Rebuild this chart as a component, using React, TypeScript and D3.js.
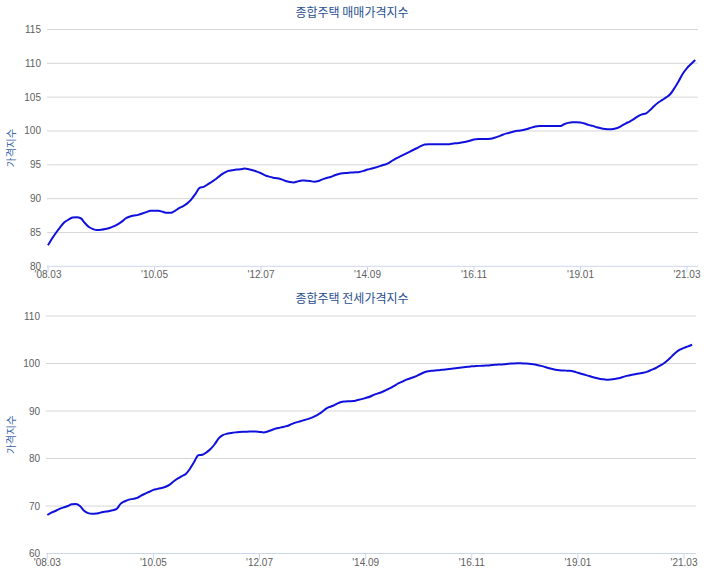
import React from "react";
import * as d3 from "d3";

// Monthly index, 2008.03 .. 2021.05
const START_YEAR = 2008;
const START_MONTH = 3;

const saleIndex: number[] = [
  83.1, 84.1, 85.0, 85.8, 86.5, 86.9, 87.2, 87.25, 87.1, 86.4,
  85.8, 85.5, 85.35, 85.4, 85.5, 85.65, 85.9, 86.2, 86.6, 87.1,
  87.35, 87.5, 87.6, 87.8, 88.0, 88.2, 88.2, 88.2, 88.05, 87.9,
  87.9, 88.2, 88.6, 88.9, 89.3, 89.9, 90.7, 91.6, 91.75, 92.1,
  92.5, 92.9, 93.4, 93.8, 94.1, 94.2, 94.3, 94.35, 94.45, 94.35,
  94.2, 94.0, 93.75, 93.45, 93.25, 93.1, 93.0, 92.85, 92.6, 92.45,
  92.4, 92.55, 92.7, 92.65, 92.6, 92.5, 92.6, 92.85, 93.05, 93.2,
  93.45, 93.65, 93.75, 93.8, 93.85, 93.9, 93.95, 94.1, 94.3, 94.45,
  94.6, 94.8, 95.0, 95.2, 95.6, 95.95, 96.25, 96.55, 96.85, 97.15,
  97.45, 97.75, 98.0, 98.05, 98.05, 98.05, 98.05, 98.05, 98.05, 98.15,
  98.2, 98.3, 98.4, 98.55, 98.75, 98.8, 98.8, 98.8, 98.85, 99.0,
  99.2, 99.45, 99.65, 99.8, 99.95, 100.05, 100.15, 100.3, 100.5, 100.65,
  100.72, 100.72, 100.72, 100.72, 100.72, 100.72, 101.0, 101.2, 101.3, 101.3,
  101.25, 101.1, 100.9, 100.75, 100.55, 100.4, 100.3, 100.25, 100.3, 100.45,
  100.75, 101.1, 101.4, 101.75, 102.15, 102.45, 102.6, 103.1, 103.7, 104.2,
  104.6, 105.0, 105.5, 106.4, 107.4, 108.5, 109.3, 109.9, 110.5,
];

const jeonseIndex: number[] = [
  68.1, 68.6, 68.95, 69.4, 69.7, 70.0, 70.35, 70.4, 70.0, 69.0,
  68.5, 68.35, 68.4, 68.6, 68.8, 68.9, 69.1, 69.4, 70.5, 71.0,
  71.35, 71.5, 71.7, 72.2, 72.6, 73.0, 73.4, 73.6, 73.8, 74.05,
  74.5, 75.2, 75.8, 76.3, 76.8, 77.9, 79.3, 80.7, 80.8, 81.3,
  82.0, 83.0, 84.25, 84.9, 85.2, 85.35, 85.5, 85.6, 85.65, 85.65,
  85.7, 85.7, 85.6, 85.5, 85.7, 86.0, 86.3, 86.5, 86.7, 86.9,
  87.3, 87.6, 87.85, 88.1, 88.35, 88.65, 89.1, 89.6, 90.3, 90.8,
  91.1, 91.55, 91.9, 92.0, 92.05, 92.1, 92.3, 92.5, 92.75, 93.0,
  93.4, 93.7, 94.0, 94.4, 94.8, 95.3, 95.8, 96.2, 96.6, 96.9,
  97.2, 97.6, 98.0, 98.3, 98.45, 98.55, 98.6, 98.7, 98.8, 98.9,
  99.0, 99.1, 99.2, 99.3, 99.4, 99.45, 99.5, 99.55, 99.6, 99.7,
  99.75, 99.8, 99.85, 99.95, 100.0, 100.05, 100.05, 100.0, 99.95, 99.85,
  99.7, 99.5, 99.25, 99.0, 98.8, 98.65, 98.55, 98.5, 98.45, 98.3,
  98.05, 97.8, 97.55, 97.3, 97.05, 96.85, 96.7, 96.6, 96.65, 96.75,
  96.9, 97.15, 97.4, 97.6, 97.75, 97.9, 98.05, 98.3, 98.65, 99.0,
  99.5, 100.0, 100.7, 101.5, 102.3, 102.9, 103.3, 103.6, 103.95,
];

const months: string[] = saleIndex.map((_, i) => {
  const m = START_MONTH - 1 + i;
  const y = START_YEAR + Math.floor(m / 12);
  const mm = (m % 12) + 1;
  return `'${String(y).slice(2)}.${String(mm).padStart(2, "0")}`;
});

const xTickLabels = ["'08.03", "'10.05", "'12.07", "'14.09", "'16.11", "'19.01", "'21.03"];

const saleTicks = [80, 85, 90, 95, 100, 105, 110, 115];
const jeonseTicks = [60, 70, 80, 90, 100, 110];

const titles = ["종합주택 매매가격지수", "종합주택 전세가격지수"];
const yAxisTitle = "가격지수";

type PanelProps = {
  title: string;
  values: number[];
  yDomain: [number, number];
  yTicks: number[];
  top: number;
  bottom: number;
  left: number;
  right: number;
  firstX: number;
  lastTickX: number;
  titleY: number;
};

const LINE = "#1010dd";

function Panel(p: PanelProps) {
  const lastTickIndex = months.indexOf(xTickLabels[xTickLabels.length - 1]);
  const x = d3.scaleLinear().domain([0, lastTickIndex]).range([p.firstX, p.lastTickX]);
  const y = d3.scaleLinear().domain(p.yDomain).range([p.bottom, p.top]);
  const line = d3
    .line<number>()
    .x((_, i) => x(i))
    .y((d) => y(d))
    .curve(d3.curveMonotoneX);
  const cx = (p.left + p.right) / 2;
  const cy = (p.top + p.bottom) / 2;
  return (
    <g>
      <text
        x={352}
        y={p.titleY}
        textAnchor="middle"
        fontFamily="'Noto Sans CJK KR', sans-serif"
        fontSize={12}
        fill="#274f8f"
      >
        {p.title}
      </text>
      <text
        transform={`translate(15,${cy}) rotate(-90)`}
        textAnchor="middle"
        fontFamily="'Noto Sans CJK KR', sans-serif"
        fontSize={10.5}
        fill="#3a66a8"
      >
        {yAxisTitle}
      </text>
      {p.yTicks.map((t) => (
        <g key={t}>
          {t !== p.yDomain[0] && (
            <line x1={p.left} x2={p.right} y1={y(t)} y2={y(t)} stroke="#d6d6d6" strokeWidth={1} />
          )}
          <text
            x={p.left - 6}
            y={y(t)}
            dy="0.35em"
            textAnchor="end"
            fontFamily="'Liberation Sans', Arial, sans-serif"
            fontSize={10}
            fill="#606060"
          >
            {t}
          </text>
        </g>
      ))}
      <line x1={p.left} x2={p.right} y1={p.bottom} y2={p.bottom} stroke="#ccd6eb" strokeWidth={1} />
      {xTickLabels.map((lab) => {
        const xi = x(months.indexOf(lab));
        return (
          <g key={lab}>
            <line x1={xi} x2={xi} y1={p.bottom} y2={p.bottom + 6} stroke="#ccd6eb" strokeWidth={1} />
            <text
              x={xi}
              y={p.bottom + 12}
              textAnchor="middle"
              fontFamily="'Liberation Sans', Arial, sans-serif"
              fontSize={10}
              fill="#606060"
            >
              {lab}
            </text>
          </g>
        );
      })}
      <path d={line(p.values) || ""} fill="none" stroke={LINE} strokeWidth={2} strokeLinejoin="round" />
    </g>
  );
}

export default function App() {
  return (
    <svg
      width={710}
      height={574}
      style={{ position: "absolute", left: 0, top: 0, background: "#fff" }}
    >
      <Panel
        title={titles[0]}
        values={saleIndex}
        yDomain={[80, 115]}
        yTicks={saleTicks}
        top={29.5}
        bottom={266.3}
        left={47}
        right={698}
        firstX={48}
        lastTickX={687}
        titleY={17}
      />
      <Panel
        title={titles[1]}
        values={jeonseIndex}
        yDomain={[60, 110]}
        yTicks={jeonseTicks}
        top={316}
        bottom={553.5}
        left={46}
        right={696}
        firstX={47.3}
        lastTickX={684}
        titleY={303}
      />
    </svg>
  );
}
